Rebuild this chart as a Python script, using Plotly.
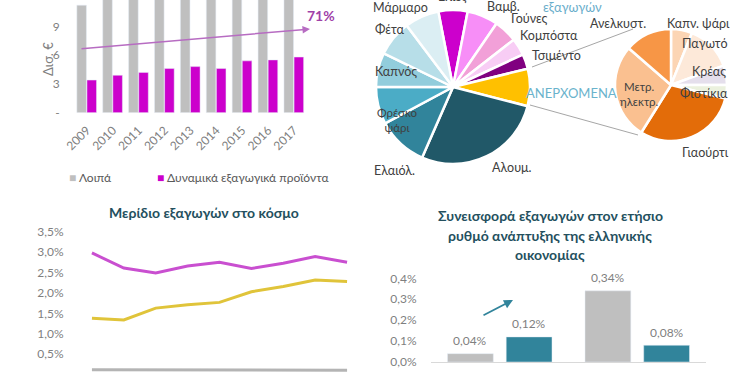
import plotly.graph_objects as go

W, H = 750, 375
def X(px): return px / W
def Y(py): return 1 - py / H

FONT = "Lato"
GRAY_TXT = "#7f7f7f"
DARK_TXT = "#404040"
TITLE_C = "#24505e"

# ---------------- data ----------------
years = ["2009", "2010", "2011", "2012", "2013", "2014", "2015", "2016", "2017"]
other_exports = [11.2, 12.5, 13.0, 13.5, 13.8, 14.0, 15.0, 16.0, 17.0]
dynamic_exports = [3.4, 3.9, 4.2, 4.6, 4.8, 4.6, 5.4, 5.5, 5.8]
bar_ticks = [0, 3, 6, 9, 12]
bar_ticktext = ["-", "3", "6", "9", "12"]

pie1_labels = ["Ελιές", "Βαμβ.", "Γούνες", "Κομπόστα", "Τσιμέντο", "ΑΝΕΡΧΟΜΕΝΑ",
               "Αλουμ.", "Ελαιόλ.", "Φρέσκο ψάρι", "Καπνός", "Φέτα", "Μάρμαρο"]
pie1_values = [6.1, 6.5, 4.9, 3.6, 3.1, 7.8, 27.5, 10.6, 7.8, 7.2, 7.5, 7.2]
pie1_colors = ["#cc00cc", "#f78ef7", "#f2a0d8", "#f8cdf5", "#800080", "#ffc000",
               "#215868", "#31849b", "#4bacc6", "#92cddc", "#b7dee8", "#dbeef3"]

pie2_labels = ["Καπν. ψάρι", "Παγωτό", "Κρέας", "Φιστίκια", "Γιαούρτι",
               "Μετρ. ηλεκτρ.", "Ανελκυστ."]
pie2_values = [6.1, 13.3, 5.6, 3.9, 30.0, 27.5, 13.6]
pie2_colors = ["#fcd5b4", "#fde9d9", "#e5dfec", "#ebf1de", "#e36c09", "#fac090", "#f79646"]

line_years = [2009, 2010, 2011, 2012, 2013, 2014, 2015, 2016, 2017]
share_magenta = [2.98, 2.61, 2.49, 2.66, 2.75, 2.60, 2.73, 2.89, 2.75]
share_yellow = [1.38, 1.34, 1.63, 1.71, 1.77, 2.03, 2.16, 2.32, 2.28]
share_gray = [0.12, 0.12, 0.12, 0.12, 0.12, 0.11, 0.11, 0.11, 0.11]

contrib_groups = [0, 1]
contrib_gray = [0.04, 0.34]
contrib_teal = [0.12, 0.08]

fig = go.Figure()

# ---------------- top-left bars ----------------
BW = 0.37
fig.add_trace(go.Bar(x=list(range(len(years))), y=other_exports, marker_color="#bfbfbf",
                     width=BW, offset=-0.39, xaxis="x", yaxis="y", showlegend=False))
fig.add_trace(go.Bar(x=list(range(len(years))), y=dynamic_exports, marker_color="#cc00cc",
                     width=BW, offset=0.0, xaxis="x", yaxis="y", showlegend=False))

# ---------------- pies ----------------
fig.add_trace(go.Pie(labels=pie1_labels, values=pie1_values, sort=False, direction="clockwise",
                     rotation=-11, marker=dict(colors=pie1_colors, line=dict(color="white", width=2.5)),
                     textinfo="none", hoverinfo="label+percent", showlegend=False,
                     domain=dict(x=[X(376), X(530)], y=[Y(164), Y(10)])))
fig.add_trace(go.Pie(labels=pie2_labels, values=pie2_values, sort=False, direction="clockwise",
                     rotation=0, marker=dict(colors=pie2_colors, line=dict(color="white", width=2.5)),
                     textinfo="none", hoverinfo="label+percent", showlegend=False,
                     domain=dict(x=[X(615), X(727)], y=[Y(141), Y(29)])))

# ---------------- bottom-left lines ----------------
for ys, c in [(share_gray, "#b4b4b4"), (share_yellow, "#e0c43a"), (share_magenta, "#c94fd0")]:
    fig.add_trace(go.Scatter(x=line_years, y=ys, mode="lines", line=dict(color=c, width=3),
                             xaxis="x2", yaxis="y2", showlegend=False))

# ---------------- bottom-right bars ----------------
BW3 = 0.333
OFF_G, OFF_T = -0.38, 0.047
fig.add_trace(go.Bar(x=contrib_groups, y=contrib_gray, marker_color="#bfbfbf", width=BW3,
                     offset=OFF_G, xaxis="x3", yaxis="y3", showlegend=False))
fig.add_trace(go.Bar(x=contrib_groups, y=contrib_teal, marker_color="#31849b", width=BW3,
                     offset=OFF_T, xaxis="x3", yaxis="y3", showlegend=False))

annotations = []
for g, v in zip(contrib_groups, contrib_gray):
    annotations.append(dict(x=g + OFF_G + BW3 / 2, y=v, xref="x3", yref="y3", yshift=13,
                            text=f"{v:.2f}%".replace(".", ","), showarrow=False,
                            font=dict(size=12, color=GRAY_TXT, family=FONT)))
for g, v in zip(contrib_groups, contrib_teal):
    annotations.append(dict(x=g + OFF_T + BW3 / 2, y=v, xref="x3", yref="y3", yshift=13,
                            text=f"{v:.2f}%".replace(".", ","), showarrow=False,
                            font=dict(size=12, color=GRAY_TXT, family=FONT)))

def lab(text, px, py, size=12.5, color=DARK_TXT, bold=False, xanchor="center"):
    t = f"<b>{text}</b>" if bold else text
    annotations.append(dict(x=X(px), y=Y(py), xref="paper", yref="paper", text=t,
                            showarrow=False, xanchor=xanchor, yanchor="middle",
                            font=dict(size=size, color=color, family=FONT)))

# pie 1 labels
lab("Ελιές", 452, -3)
lab("Μάρμαρο", 400, 7)
lab("Βαμβ.", 503, 6)
lab("εξαγωγών", 572, 7, size=13, color="#6aaecb")
lab("Γούνες", 529, 18)
lab("Κομπόστα", 549, 36)
lab("Τσιμέντο", 556, 56)
lab("ΑΝΕΡΧΟΜΕΝΑ", 571, 93, size=13, color="#6ab3cc")
lab("Φέτα", 390, 30)
lab("Καπνός", 396, 71)
lab("Φρέσκο<br>ψάρι", 397, 120, size=11.5)
lab("Ελαιόλ.", 394, 170)
lab("Αλουμ.", 512, 167)
# pie 2 labels
lab("Ανελκυστ.", 618, 23)
lab("Καπν. ψάρι", 698, 23)
lab("Παγωτό", 705, 43)
lab("Κρέας", 709, 71)
lab("Φιστίκια", 704, 94)
lab("Μετρ.<br>ηλεκτρ.", 639, 94, size=11.5)
lab("Γιαούρτι", 705, 152)

# top-left extras
annotations.append(dict(x=X(38), y=Y(40), xref="paper", yref="paper", text="Δισ. €",
                        textangle=-90, showarrow=False,
                        font=dict(size=13, color=GRAY_TXT, family=FONT)))
lab("71%", 321, 15, size=14, color="#a040a8", bold=True)
annotations.append(dict(x=X(310), y=Y(29), xref="paper", yref="paper", ax=-230, ay=20,
                        showarrow=True, arrowhead=2, arrowsize=1, arrowwidth=1.5,
                        arrowcolor="#b76cc2", text=""))
annotations.append(dict(x=X(67), y=Y(177), xref="paper", yref="paper", xanchor="left",
                        text="<span style='color:#bfbfbf'>■</span> Λοιπά", showarrow=False,
                        font=dict(size=12, color="#595959", family=FONT)))
annotations.append(dict(x=X(155), y=Y(177), xref="paper", yref="paper", xanchor="left",
                        text="<span style='color:#cc00cc'>■</span> Δυναμικά εξαγωγικά προϊόντα",
                        showarrow=False, font=dict(size=12, color="#595959", family=FONT)))

# titles
lab("Μερίδιο εξαγωγών στο κόσμο", 204, 213, size=14, color=TITLE_C, bold=True)
lab("Συνεισφορά εξαγωγών στον ετήσιο", 550, 215, size=14, color=TITLE_C, bold=True)
lab("ρυθμό ανάπτυξης της ελληνικής", 550, 235, size=14, color=TITLE_C, bold=True)
lab("οικονομίας", 550, 254, size=14, color=TITLE_C, bold=True)

# bottom-right arrow
annotations.append(dict(x=X(513), y=Y(300), xref="paper", yref="paper", ax=-31, ay=16,
                        showarrow=True, arrowhead=2, arrowsize=1, arrowwidth=1.8,
                        arrowcolor="#31849b", text=""))

shapes = [
    dict(type="line", xref="paper", yref="paper", x0=X(532), y0=Y(67), x1=X(633), y1=Y(29),
         line=dict(color="#a6a6a6", width=1)),
    dict(type="line", xref="paper", yref="paper", x0=X(530), y0=Y(105), x1=X(638), y1=Y(135),
         line=dict(color="#a6a6a6", width=1)),
]

tickfont = dict(size=12, color=GRAY_TXT, family=FONT)
fig.update_layout(
    width=W, height=H, margin=dict(l=0, r=0, t=0, b=0, autoexpand=False),
    paper_bgcolor="white", plot_bgcolor="white",
    separators=",.", barmode="overlay",
    font=dict(family=FONT),
    xaxis=dict(domain=[X(74), X(307)], range=[-0.5, 8.5], tickmode="array",
               tickvals=list(range(len(years))), ticktext=years, tickangle=-45,
               ticks="outside", ticklen=5, tickcolor="rgba(0,0,0,0)", automargin=False,
               showgrid=False, zeroline=False, showline=False, tickfont=tickfont),
    yaxis=dict(domain=[Y(112.7), 1], range=[0, 112.7 / 9.6], tickmode="array",
               tickvals=bar_ticks, ticktext=bar_ticktext, ticks="outside", ticklen=11,
               tickcolor="rgba(0,0,0,0)", showgrid=False, zeroline=False, showline=False,
               tickfont=tickfont, automargin=False),
    xaxis2=dict(domain=[X(76), X(363)], range=[2008.5, 2017.5], showticklabels=False,
                showgrid=False, zeroline=False, showline=False, anchor="y2", automargin=False),
    yaxis2=dict(domain=[Y(374.7), Y(231.7)], range=[0, 3.5], dtick=0.5, tickformat=".1f",
                ticksuffix="%", ticks="outside", ticklen=9, tickcolor="rgba(0,0,0,0)",
                showgrid=False, zeroline=False, showline=False, tickfont=tickfont, anchor="x2",
                automargin=False),
    xaxis3=dict(domain=[X(431), X(706)], range=[-0.5, 1.5], showticklabels=False,
                showgrid=False, zeroline=False, showline=True, linecolor="#d9d9d9",
                linewidth=1, anchor="y3", automargin=False),
    yaxis3=dict(domain=[Y(362), Y(278.3)], range=[0, 0.4], dtick=0.1, tickformat=".1f",
                ticksuffix="%", ticks="outside", ticklen=11, tickcolor="rgba(0,0,0,0)",
                showgrid=False, zeroline=False, showline=False, tickfont=tickfont, anchor="x3",
                automargin=False),
    annotations=annotations, shapes=shapes,
)

fig.write_html("out.html", config={"displayModeBar": False},
               post_script="document.body.style.margin='0';")
